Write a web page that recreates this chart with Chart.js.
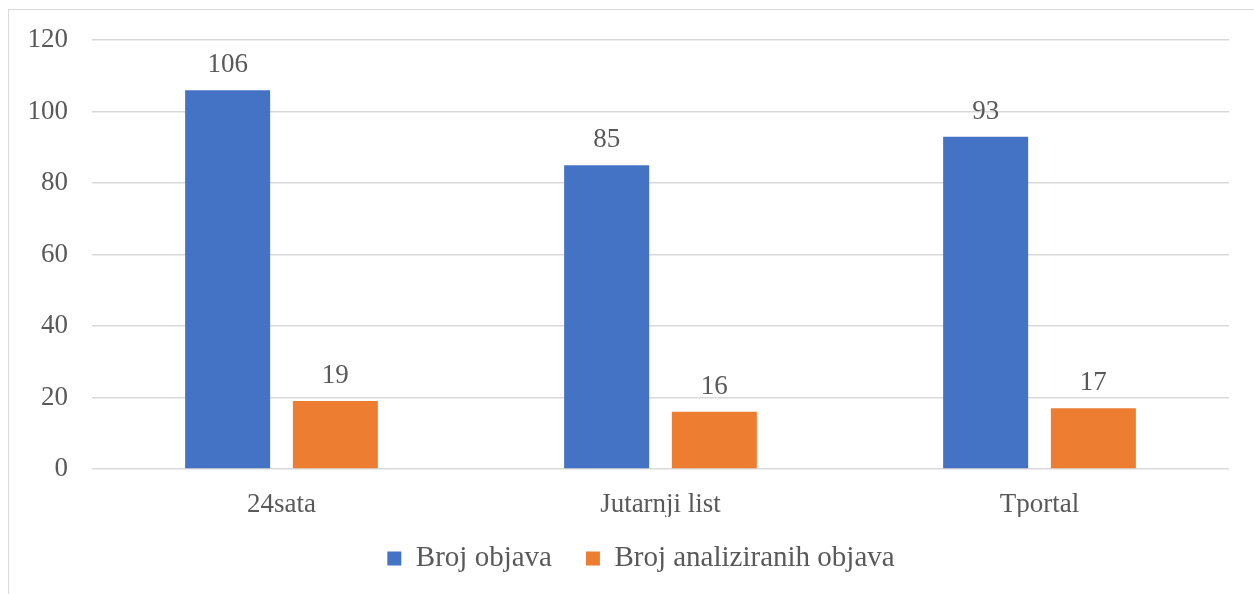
<!DOCTYPE html>
<html>
<head>
<meta charset="utf-8">
<script src="https://cdn.jsdelivr.net/npm/chart.js@4.4.1/dist/chart.umd.min.js"></script>
<style>
  html, body { margin: 0; padding: 0; background: #fff; overflow: hidden; }
  #okvir { position: absolute; left: 8px; top: 9px; width: 1400px; height: 800px;
           border: 1px solid #d9d9d9; }
  #lienzo { position: absolute; left: 0; top: 0; }
</style>
</head>
<body>
<div id="okvir"></div>
<canvas id="lienzo" width="1254" height="594"></canvas>
<script>
// Podaci s grafikona
const PORTALI = ['24sata', 'Jutarnji list', 'Tportal'];
const BROJ_OBJAVA = [106, 85, 93];
const BROJ_ANALIZIRANIH = [19, 16, 17];
const OZNAKE_SERIJA = ['Broj objava', 'Broj analiziranih objava'];

const PLAVA = '#4472c4';
const NARANCASTA = '#ed7d31';
const TEKST = '#595959';
const REŠETKA = '#d9d9d9';
const OBITELJ = '"Liberation Serif", "Times New Roman", serif';
const FONT = { family: OBITELJ, size: 27 };
const FONT_LEGENDE = { family: OBITELJ, size: 29 };

// Vrijednost iznad svakog stupca
const oznakeVrijednosti = {
  id: 'oznakeVrijednosti',
  afterDatasetsDraw(chart) {
    const ctx = chart.ctx;
    ctx.save();
    ctx.font = `${FONT.size}px ${FONT.family}`;
    ctx.fillStyle = TEKST;
    ctx.textAlign = 'center';
    ctx.textBaseline = 'alphabetic';
    chart.data.datasets.forEach((ds, i) => {
      chart.getDatasetMeta(i).data.forEach((bar, j) => {
        ctx.fillText(String(ds.data[j]), bar.x, bar.y - 18);
      });
    });
    ctx.restore();
  },
};

// Legenda u Wordu nije centrirana ispod cijelog platna nego malo desnije
const pomakLegende = {
  id: 'pomakLegende',
  afterLayout(chart) {
    const l = chart.legend;
    if (!l) return;
    const dx = 26.5;
    const dy = 510 - l.top;
    l.left += dx; l.right += dx;
    l.top += dy; l.bottom += dy;
  },
};

new Chart(document.getElementById('lienzo'), {
  type: 'bar',
  data: {
    labels: PORTALI,
    datasets: [
      { label: OZNAKE_SERIJA[0], data: BROJ_OBJAVA, backgroundColor: PLAVA },
      { label: OZNAKE_SERIJA[1], data: BROJ_ANALIZIRANIH, backgroundColor: NARANCASTA },
    ],
  },
  options: {
    responsive: false,
    animation: false,
    datasets: { bar: { categoryPercentage: 0.5685, barPercentage: 0.789 } },
    layout: { padding: { left: 0, right: 25, top: 39, bottom: 4 } },
    scales: {
      x: {
        grid: { display: false, drawTicks: false },
        border: { display: false },
        ticks: { color: TEKST, font: FONT, padding: 20 },
        afterFit(s) { s.height = 48; },
      },
      y: {
        min: 0, max: 120,
        ticks: { stepSize: 20, color: TEKST, font: FONT, padding: 24 },
        grid: { color: REŠETKA, lineWidth: 1.5, drawTicks: false },
        border: { display: false },
        afterFit(s) { s.width = 92; },
      },
    },
    plugins: {
      legend: {
        position: 'bottom',
        labels: { color: TEKST, font: FONT_LEGENDE, boxWidth: 14, boxHeight: 14, padding: 34 },
      },
      tooltip: { enabled: false },
    },
  },
  plugins: [oznakeVrijednosti, pomakLegende],
});
</script>
</body>
</html>
